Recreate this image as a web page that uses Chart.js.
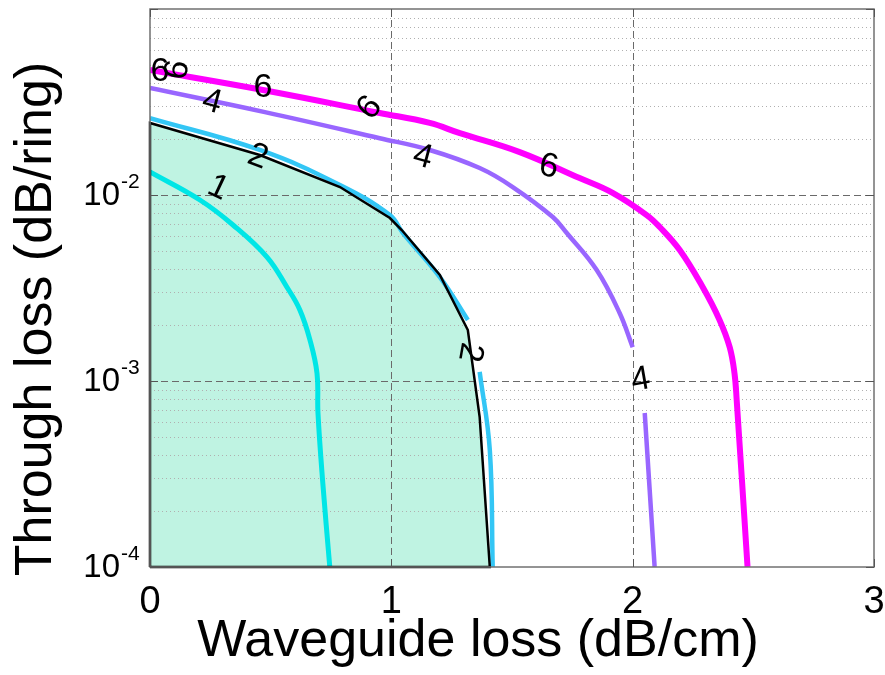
<!DOCTYPE html>
<html>
<head>
<meta charset="utf-8">
<script src="https://cdn.jsdelivr.net/npm/chart.js@4.4.0/dist/chart.umd.min.js"></script>
<style>
  html, body { margin: 0; padding: 0; background: #fff; }
</style>
</head>
<body>
<canvas id="c" width="885" height="675"></canvas>
<script>
// contour lines (x: dB/cm, y: dB/ring); null = gap in the line
const curve1X = [0, 0.207, 0.344, 0.484, 0.567, 0.621, 0.663, 0.692, 0.696, 0.716, 0.745];
const curve1Y = [0.0133, 0.0094, 0.0069, 0.00465, 0.0032, 0.00241, 0.00166, 0.0011, 0.000673, 0.000283, 0.0001];

const curve2X = [0, 0.455, 0.787, 0.994, 1.048, 1.201, 1.317, 1.34, 1.366, 1.408, 1.42];
const curve2Y = [0.0259, 0.01746, 0.01132, 0.0078, 0.00625, 0.00362, 0.00213, null, 0.00112, 0.000426, 0.0001];

const curve4X = [0, 0.476, 0.952, 1.159, 1.366, 1.503, 1.669, 1.727, 1.851, 1.946, 2.0, 2.02, 2.05, 2.091];
const curve4Y = [0.0376, 0.0279, 0.0202, 0.01746, 0.01396, 0.01104, 0.00762, 0.00625, 0.00395, 0.00232, 0.00152, null, 0.000673, 0.0001];

const curve6X = [0, 0.468, 0.952, 1.159, 1.284, 1.532, 1.78, 1.917, 2.058, 2.112, 2.195, 2.29, 2.36, 2.402, 2.422, 2.431, 2.476];
const curve6Y = [0.047, 0.0367, 0.0276, 0.0244, 0.0215, 0.017, 0.01233, 0.01026, 0.0078, 0.00673, 0.00506, 0.0032, 0.00213, 0.00152, 0.0011, 0.00079, 0.0001];

// shaded feasible region (polygon)
const regionX = [0, 0, 0.455, 0.787, 0.994, 1.043, 1.201, 1.317, 1.366, 1.408];
const regionY = [0.0001, 0.02438, 0.0164, 0.01104, 0.00752, 0.00648, 0.00372, 0.00188, 0.00064, 0.0001];

// contour labels: text, x, y, rotation (deg)
const labelText = ['6', '6', '4', '6', '6', '4', '6', '2', '1', '2', '4'];
const labelX = [0.041, 0.116, 0.257, 0.468, 0.911, 1.13, 1.652, 0.447, 0.282, 1.325, 2.033];
const labelY = [0.0458, 0.047, 0.0316, 0.0376, 0.0294, 0.016, 0.01416, 0.016, 0.0109, 0.00143, 0.00101];
const labelRot = [0, -80, 15, 0, -50, 15, 10, 20, 25, 100, -10];

// axes
const xTicks = [0, 1, 2, 3];
const xMajorGrid = [1, 2];
const yDecades = [-4, -3, -2];
const yMajorGrid = [1e-3, 1e-2];
const yMinorMult = [2, 3, 4, 5, 6, 7, 8, 9];

const FONT = '"Liberation Sans", Arial, Helvetica, sans-serif';

const pts = (xs, ys) => xs.map((x, i) => ({ x, y: ys[i] }));

function drawGrid(chart) {
  const { ctx, chartArea: a, scales: { x, y } } = chart;
  ctx.save();
  ctx.lineWidth = 1;
  ctx.strokeStyle = '#b0b0b0';
  ctx.setLineDash([1, 3]);
  yDecades.forEach(e => yMinorMult.forEach(m => {
    const p = Math.round(y.getPixelForValue(m * Math.pow(10, e))) + 0.5;
    ctx.beginPath(); ctx.moveTo(a.left, p); ctx.lineTo(a.right, p); ctx.stroke();
  }));
  ctx.strokeStyle = '#6a6a6a';
  ctx.setLineDash([7, 4]);
  yMajorGrid.forEach(v => {
    const p = Math.round(y.getPixelForValue(v)) + 0.5;
    ctx.beginPath(); ctx.moveTo(a.left, p); ctx.lineTo(a.right, p); ctx.stroke();
  });
  xMajorGrid.forEach(v => {
    const p = Math.round(x.getPixelForValue(v)) + 0.5;
    ctx.beginPath(); ctx.moveTo(p, a.top); ctx.lineTo(p, a.bottom); ctx.stroke();
  });
  ctx.restore();
}

const decor = {
  id: 'decor',
  afterDatasetDraw(chart, args) {
    if (chart.data.datasets[args.index].id === 'area') drawGrid(chart);
  },
  afterDraw(chart) {
    const { ctx, chartArea: a, scales: { x, y } } = chart;
    ctx.save();
    // box + inward ticks
    ctx.strokeStyle = '#707070';
    ctx.lineWidth = 1.5;
    ctx.strokeRect(a.left, a.top, a.right - a.left, a.bottom - a.top);
    ctx.lineWidth = 1;
    ctx.strokeStyle = '#555';
    yDecades.concat([-1]).forEach(e => {
      const p = Math.round(y.getPixelForValue(Math.pow(10, e))) + 0.5;
      ctx.beginPath();
      ctx.moveTo(a.left, p); ctx.lineTo(a.left + 8, p);
      ctx.moveTo(a.right, p); ctx.lineTo(a.right - 8, p);
      ctx.stroke();
      if (e > -1) yMinorMult.forEach(m => {
        const q = Math.round(y.getPixelForValue(m * Math.pow(10, e))) + 0.5;
        ctx.beginPath();
        ctx.moveTo(a.left, q); ctx.lineTo(a.left + 4, q);
        ctx.moveTo(a.right, q); ctx.lineTo(a.right - 4, q);
        ctx.stroke();
      });
    });
    xTicks.forEach(v => {
      const p = Math.round(x.getPixelForValue(v)) + 0.5;
      ctx.beginPath();
      ctx.moveTo(p, a.bottom); ctx.lineTo(p, a.bottom - 8);
      ctx.moveTo(p, a.top); ctx.lineTo(p, a.top + 8);
      ctx.stroke();
    });

    ctx.fillStyle = '#000';
    // x tick labels
    ctx.font = '38px ' + FONT;
    ctx.textAlign = 'center';
    ctx.textBaseline = 'alphabetic';
    xTicks.forEach(v => ctx.fillText(String(v), x.getPixelForValue(v), a.bottom + 46));

    // y tick labels 10^e
    yDecades.forEach(e => {
      const p = y.getPixelForValue(Math.pow(10, e));
      ctx.font = '33px ' + FONT;
      ctx.textAlign = 'right';
      ctx.textBaseline = 'middle';
      ctx.fillText('10', 120, p + 1);
      ctx.font = '21px ' + FONT;
      ctx.textAlign = 'left';
      ctx.fillText(String(e), 121, p - 13);
    });

    // contour labels
    ctx.font = '34px ' + FONT;
    ctx.textAlign = 'center';
    ctx.textBaseline = 'middle';
    labelText.forEach((t, i) => {
      ctx.save();
      ctx.translate(x.getPixelForValue(labelX[i]), y.getPixelForValue(labelY[i]));
      ctx.rotate(labelRot[i] * Math.PI / 180);
      ctx.fillText(t, 0, 0);
      ctx.restore();
    });

    // axis titles
    ctx.font = '52px ' + FONT;
    ctx.textAlign = 'center';
    ctx.textBaseline = 'alphabetic';
    ctx.fillText('Waveguide loss (dB/cm)', 478, 656);
    ctx.save();
    ctx.translate(51, 319);
    ctx.rotate(-Math.PI / 2);
    ctx.fillText('Through loss (dB/ring)', 0, 0);
    ctx.restore();
    ctx.restore();
  }
};

const lineDs = (data, color, width) => ({
  data, borderColor: color, borderWidth: width, pointRadius: 0, fill: false,
  tension: 0.4, order: 1, borderCapStyle: 'butt'
});

new Chart(document.getElementById('c'), {
  type: 'line',
  data: {
    datasets: [
      { id: 'outline', data: pts(regionX.concat([0]), regionY.concat([0.0001])), borderColor: '#000', borderWidth: 2.5,
        pointRadius: 0, fill: false, tension: 0, order: 0, clip: false },
      lineDs(pts(curve6X, curve6Y), '#ff00ff', 6),
      lineDs(pts(curve4X, curve4Y), '#9966ff', 4.5),
      lineDs(pts(curve2X, curve2Y), '#33c6f5', 4.5),
      lineDs(pts(curve1X, curve1Y), '#00e6e6', 5),
      { id: 'area', data: pts(regionX, regionY), borderWidth: 0, borderColor: 'rgba(0,0,0,0)',
        backgroundColor: 'rgb(191,243,226)', pointRadius: 0, fill: 'start', tension: 0, order: 10 }
    ]
  },
  options: {
    responsive: false,
    animation: false,
    layout: { padding: { top: 9, right: 11, left: 0, bottom: 0 } },
    plugins: { legend: { display: false }, tooltip: { enabled: false } },
    scales: {
      x: {
        type: 'linear', min: 0, max: 3,
        ticks: { display: false, stepSize: 1 },
        grid: { display: false, drawTicks: false },
        border: { display: false },
        afterFit: s => { s.height = 108; }
      },
      y: {
        type: 'logarithmic', min: 1e-4, max: 1e-1,
        ticks: { display: false },
        grid: { display: false, drawTicks: false },
        border: { display: false },
        afterFit: s => { s.width = 150; }
      }
    }
  },
  plugins: [decor]
});
</script>
</body>
</html>
